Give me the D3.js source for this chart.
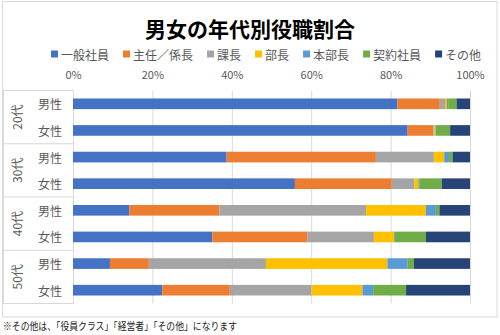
<!DOCTYPE html>
<html>
<head>
<meta charset="utf-8">
<script src="https://cdn.jsdelivr.net/npm/d3@7"></script>
<style>
  body { margin: 0; background: #fff; }
  svg text { font-family: "Noto Sans CJK JP", "Noto Sans", sans-serif; }
</style>
</head>
<body>
<svg id="chart" width="500" height="335"></svg>
<script>
// age groups, and the two bars inside each group
var ageGroups = ['20代', '30代', '40代', '50代'];
var genders = ['男性', '女性'];
var seriesNames = ['一般社員', '主任／係長', '課長', '部長', '本部長', '契約社員', 'その他'];
var seriesColors = ['#4472C4', '#ED7D31', '#A5A5A5', '#FFC000', '#5B9BD5', '#70AD47', '#264478'];
var tickValues = [0, 20, 40, 60, 80, 100];

// share in % per row: 20代男, 20代女, 30代男, 30代女, 40代男, 40代女, 50代男, 50代女
var ippan   = [81.7, 84.3, 38.7, 55.9, 14.2, 35.1,  9.3, 22.5];
var shunin  = [10.7,  6.5, 37.6, 24.4, 22.7, 24.0,  9.8, 17.0];
var kacho   = [ 1.3,  0.3, 14.6,  5.7, 36.9, 16.7, 29.5, 20.6];
var bucho   = [ 0.5,  0.2,  2.6,  1.0, 15.1,  5.1, 30.6, 12.8];
var honbu   = [ 0.3,  0.0,  1.2,  0.2,  2.5,  0.2,  5.1,  2.7];
var keiyaku = [ 2.1,  3.7,  0.9,  5.7,  0.9,  7.8,  1.6,  8.3];
var sonota  = [ 3.4,  5.0,  4.4,  7.1,  7.7, 11.1, 14.1, 16.1];

var footnote = '※その他は、「役員クラス」「経営者」「その他」になります';

var allSeries = [ippan, shunin, kacho, bucho, honbu, keiyaku, sonota];

var rows = [];
ageGroups.forEach(function(g, gi){
	genders.forEach(function(s, si){
		var i = gi * 2 + si;
		var row = {key: g + s, group: g, gender: s};
		seriesNames.forEach(function(n, k){ row[n] = allSeries[k][i]; });
		rows.push(row);
	});
});

var svg = d3.select('#chart');
var grid = '#D9D9D9', textCol = '#595959';

// chart frame
svg.append('rect')
	.attr('x', 2.5).attr('y', 1.5).attr('width', 494.5).attr('height', 315.5)
	.attr('fill', '#fff').attr('stroke', grid);

var x = d3.scaleLinear().domain([0, 100]).range([73, 470]);
var y = d3.scaleBand().domain(rows.map(function(d){ return d.key })).range([90.5, 303.5])
	.paddingInner(0.6).paddingOuter(0.3);

// title
svg.append('text')
	.attr('x', 250).attr('y', 28)
	.attr('text-anchor', 'middle').attr('dominant-baseline', 'central')
	.attr('font-size', '21px').attr('font-weight', 'bold').attr('fill', '#000')
	.text('男女の年代別役職割合');

// legend
var lx = 51;
seriesNames.forEach(function(n, k){
	var g = svg.append('g').attr('transform', 'translate(' + lx + ',54)');
	g.append('rect').attr('x', 0).attr('y', -3.5).attr('width', 7).attr('height', 7).attr('fill', seriesColors[k]);
	var t = g.append('text').attr('x', 10).attr('dominant-baseline', 'central')
		.attr('font-size', '12px').attr('fill', textCol).text(n);
	lx += 10 + t.node().getComputedTextLength() + 14;
});

// gridlines
svg.append('g').selectAll('line').data(tickValues).enter().append('line')
	.attr('x1', function(d){ return x(d) + 0.5 }).attr('x2', function(d){ return x(d) + 0.5 })
	.attr('y1', 90.5).attr('y2', 303.5)
	.attr('stroke', grid);

// value axis on top
var axis = svg.append('g').attr('transform', 'translate(0,74)')
	.call(d3.axisTop(x).tickValues(tickValues).tickSize(0).tickFormat(function(d){ return d + '%' }));
axis.select('.domain').remove();
axis.selectAll('text')
	.attr('dy', null).attr('y', 0).attr('dominant-baseline', 'central')
	.attr('font-size', '11px').attr('fill', textCol)
	.style('font-family', '"Noto Sans CJK JP", sans-serif');

// stacked bars
var stack = d3.stack().keys(seriesNames)(rows);
svg.append('g').selectAll('g').data(stack).enter().append('g')
	.attr('fill', function(d, i){ return seriesColors[i] })
	.selectAll('rect').data(function(d){ return d }).enter().append('rect')
	.attr('x', function(d){ return x(d[0]) })
	.attr('width', function(d){ return x(d[1]) - x(d[0]) })
	.attr('y', function(d){ return y(d.data.key) })
	.attr('height', y.bandwidth());

// category axis: group boxes, group labels and gender labels
var step = y.step();
var catTop = y.range()[0];
var cat = svg.append('g');
d3.range(ageGroups.length + 1).forEach(function(k){
	cat.append('line')
		.attr('x1', 3.5).attr('x2', 73.5)
		.attr('y1', catTop + k * 2 * step).attr('y2', catTop + k * 2 * step)
		.attr('stroke', grid);
});
cat.append('line').attr('x1', 3.5).attr('x2', 3.5).attr('y1', catTop).attr('y2', y.range()[1]).attr('stroke', grid);

ageGroups.forEach(function(g, gi){
	var cy = catTop + (gi * 2 + 1) * step;
	cat.append('text')
		.attr('transform', 'translate(16,' + cy + ') rotate(-90)')
		.attr('text-anchor', 'middle').attr('dominant-baseline', 'central')
		.attr('font-size', '12px').attr('fill', textCol).text(g);
});
cat.selectAll('text.gender').data(rows).enter().append('text')
	.attr('class', 'gender')
	.attr('x', 50).attr('y', function(d){ return y(d.key) + y.bandwidth() / 2 })
	.attr('text-anchor', 'middle').attr('dominant-baseline', 'central')
	.attr('font-size', '12px').attr('fill', textCol)
	.text(function(d){ return d.gender });

// footnote under the frame
svg.append('text')
	.attr('x', 3).attr('y', 325).attr('dominant-baseline', 'central')
	.attr('font-size', '10.5px').attr('fill', '#222')
	.attr('textLength', 234).attr('lengthAdjust', 'spacingAndGlyphs')
	.text(footnote);
</script>
</body>
</html>
